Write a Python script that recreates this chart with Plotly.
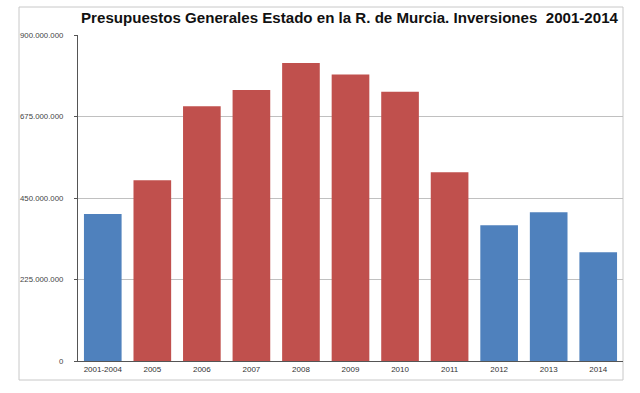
import plotly.graph_objects as go

categories = ["2001-2004", "2005", "2006", "2007", "2008", "2009", "2010", "2011", "2012", "2013", "2014"]
values = [406e6, 499e6, 703e6, 748e6, 823e6, 791e6, 743e6, 521e6, 375e6, 411e6, 300e6]
groups = ["blue", "red", "red", "red", "red", "red", "red", "red", "blue", "blue", "blue"]
y_ticks = [0, 225e6, 450e6, 675e6, 900e6]

palette = {"blue": "#4F81BD", "red": "#C0504D"}
colors = [palette[g] for g in groups]

fig = go.Figure()
fig.add_trace(go.Bar(
    x=categories, y=values,
    marker=dict(color=colors, line=dict(width=0)),
    showlegend=False,
))

L, R, T, B = 78, 17, 35, 32
W, H = 640, 393
pw, ph = W - L - R, H - T - B

def px_to_paper_x(px):
    return (px - L) / pw

def px_to_paper_y(py):
    return (H - B - py) / ph

fig.update_layout(
    width=W, height=H,
    margin=dict(l=L, r=R, t=T, b=B),
    paper_bgcolor="white",
    plot_bgcolor="white",
    separators=",.",
    bargap=0.24,
    title=dict(
        text="<b>Presupuestos Generales Estado en la R. de Murcia. Inversiones  2001-2014</b>",
        x=px_to_paper_x(349.5), xref="paper", xanchor="center",
        y=1 - 17.5 / H, yref="container", yanchor="middle",
        font=dict(family="Liberation Sans, Arial, sans-serif", size=15.1, color="#111111"),
    ),
    font=dict(family="Liberation Sans, Arial, sans-serif"),
    xaxis=dict(
        showline=True, linecolor="#555555", linewidth=1.2,
        ticks="", tickfont=dict(size=8, color="#333333"),
        showgrid=False,
    ),
    yaxis=dict(
        range=[0, 900e6],
        tickvals=y_ticks,
        tickformat=",.0f",
        showline=True, linecolor="#555555", linewidth=1.2,
        ticks="outside", ticklen=3, tickcolor="#555555",
        ticklabelstandoff=9,
        tickfont=dict(size=7.8, color="#444444"),
        showgrid=True, gridcolor="#C0C0C0", gridwidth=1,
        zeroline=False,
    ),
    shapes=[dict(
        type="rect", xref="paper", yref="paper",
        x0=px_to_paper_x(19), x1=px_to_paper_x(623),
        y0=px_to_paper_y(380), y1=px_to_paper_y(7),
        line=dict(color="#C8C8C8", width=1), fillcolor="rgba(0,0,0,0)",
        layer="below",
    )],
)

fig.write_html(
    "out.html",
    config={"displayModeBar": False},
    post_script="document.body.style.margin='0';document.body.style.padding='0';",
)
